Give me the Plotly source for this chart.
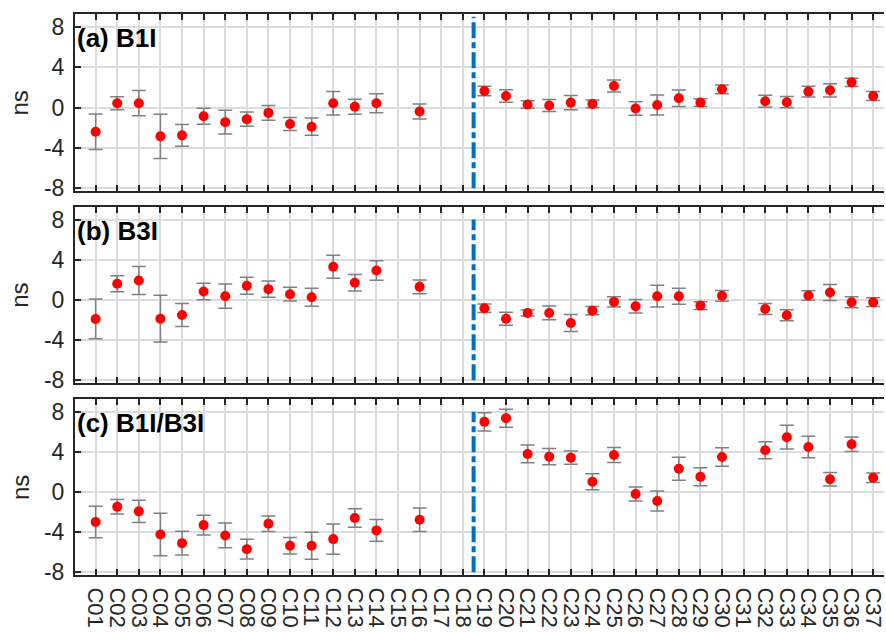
import plotly.graph_objects as go
from plotly.subplots import make_subplots

# Satellite labels along the x axis
categories = ["C01", "C02", "C03", "C04", "C05", "C06", "C07", "C08", "C09", "C10",
              "C11", "C12", "C13", "C14", "C15", "C16", "C17", "C18", "C19", "C20",
              "C21", "C22", "C23", "C24", "C25", "C26", "C27", "C28", "C29", "C30",
              "C31", "C32", "C33", "C34", "C35", "C36", "C37"]

# (a) B1I bias estimates and their uncertainties (ns)
b1i_val = [-2.4, 0.43, 0.43, -2.86, -2.76, -0.86, -1.45, -1.15, -0.53, -1.64,
           -1.9, 0.43, 0.07, 0.43, None, -0.39, None, None, 1.64, 1.15,
           0.3, 0.2, 0.49, 0.36, 2.14, -0.1, 0.26, 0.92, 0.49, 1.81,
           None, 0.62, 0.53, 1.58, 1.71, 2.5, 1.15]
b1i_err = [1.76, 0.65, 1.25, 2.2, 1.07, 0.8, 1.17, 0.7, 0.74, 0.64,
           0.86, 1.17, 0.74, 0.95, None, 0.74, None, None, 0.48, 0.62,
           0.38, 0.59, 0.7, 0.38, 0.59, 0.67, 0.99, 0.82, 0.38, 0.43,
           None, 0.59, 0.56, 0.53, 0.66, 0.41, 0.45]

# (b) B3I
b3i_val = [-1.9, 1.6, 1.93, -1.87, -1.5, 0.83, 0.37, 1.4, 1.07, 0.57,
           0.27, 3.3, 1.7, 2.93, None, 1.3, None, None, -0.83, -1.87,
           -1.3, -1.3, -2.3, -1.07, -0.2, -0.63, 0.37, 0.37, -0.57, 0.4,
           None, -0.9, -1.53, 0.43, 0.73, -0.23, -0.23]
b3i_err = [1.98, 0.8, 1.4, 2.33, 1.15, 0.82, 1.2, 0.85, 0.8, 0.68,
           0.9, 1.15, 0.82, 0.97, None, 0.68, None, None, 0.43, 0.65,
           0.3, 0.68, 0.85, 0.4, 0.5, 0.67, 1.08, 0.8, 0.38, 0.53,
           None, 0.55, 0.55, 0.47, 0.8, 0.55, 0.43]

# (c) B1I/B3I
b1b3_val = [-3.0, -1.47, -1.93, -4.23, -5.1, -3.3, -4.33, -5.7, -3.17, -5.37,
            -5.37, -4.7, -2.6, -3.83, None, -2.77, None, None, 7.0, 7.37,
            3.8, 3.53, 3.43, 1.03, 3.7, -0.2, -0.9, 2.33, 1.53, 3.5,
            None, 4.17, 5.47, 4.5, 1.27, 4.77, 1.43]
b1b3_err = [1.57, 0.72, 1.12, 2.12, 1.18, 0.98, 1.23, 0.98, 0.78, 0.82,
            1.35, 1.52, 0.92, 1.08, None, 1.18, None, None, 0.92, 0.9,
            0.88, 0.8, 0.65, 0.8, 0.75, 0.7, 1.0, 1.15, 0.9, 0.92,
            None, 0.85, 1.18, 1.07, 0.68, 0.72, 0.47]

panel_titles = ["(a) B1I", "(b) B3I", "(c) B1I/B3I"]
y_tickvals = [-8, -4, 0, 4, 8]
y_ticktext = ["-8", "-4", "0", "4", "8"]
split_position = 17.5  # boundary between C18 and C19

FONT = "Liberation Sans, Arial, Helvetica, sans-serif"
AXIS_COLOR = "#262626"
GRID_COLOR = "#dcdcdc"

fig = make_subplots(rows=3, cols=1, shared_xaxes=False, vertical_spacing=0.028)

series = [(b1i_val, b1i_err), (b3i_val, b3i_err), (b1b3_val, b1b3_err)]
domains = [[0.6845, 1.0], [0.3422, 0.6565], [0.0, 0.3137]]
line_tops = [9, 8, 8]

for i, (vals, errs) in enumerate(series):
    row = i + 1
    fig.add_trace(
        go.Scatter(
            x=categories, y=vals, mode="markers",
            marker=dict(color="#ff0000", size=10, line=dict(width=0)),
            error_y=dict(type="data", array=errs, visible=True,
                         color="#808080", thickness=1.5, width=7),
            showlegend=False,
        ),
        row=row, col=1,
    )
    xa = "xaxis" if row == 1 else f"xaxis{row}"
    ya = "yaxis" if row == 1 else f"yaxis{row}"
    xref = "x" if row == 1 else f"x{row}"
    yref = "y" if row == 1 else f"y{row}"
    fig.layout[xa].update(
        type="category", categoryorder="array", categoryarray=categories,
        tickmode="array", tickvals=categories, ticktext=categories,
        range=[-0.955, 36.5], domain=[0, 1],
        showgrid=True, gridcolor=GRID_COLOR, gridwidth=2,
        showline=True, linecolor=AXIS_COLOR, linewidth=2, mirror="ticks",
        ticks="inside", ticklen=6, tickwidth=2, tickcolor=AXIS_COLOR,
        showticklabels=(row == 3), tickangle=90,
        tickfont=dict(family=FONT, size=22, color="#262626"),
        ticklabelstandoff=6,
        zeroline=False,
    )
    fig.layout[ya].update(
        range=[-8.28, 9.28], domain=domains[i],
        tickvals=y_tickvals, ticktext=y_ticktext,
        showgrid=True, gridcolor=GRID_COLOR, gridwidth=2,
        showline=True, linecolor=AXIS_COLOR, linewidth=2, mirror=False,
        ticks="inside", ticklen=6, tickwidth=2, tickcolor=AXIS_COLOR,
        tickfont=dict(family=FONT, size=23, color="#262626"),
        ticklabelstandoff=4,
        zeroline=False,
    )
    # separator between the two satellite groups
    fig.add_shape(
        type="line", xref=xref, yref=yref,
        x0=split_position, x1=split_position, y0=-8, y1=line_tops[i],
        line=dict(color="#0072BD", width=4, dash="16px,4px,6px,4px"),
        layer="above",
    )
    # panel label
    fig.add_annotation(
        xref=f"{xref} domain", yref=f"{yref} domain", x=0.0, y=0.96,
        xanchor="left", yanchor="top", showarrow=False,
        text=f"<b>{panel_titles[i]}</b>",
        font=dict(family=FONT, size=26, color="#000000"),
    )
    # y-axis unit label
    fig.add_annotation(
        xref="paper", yref=f"{yref} domain", x=-0.068, y=0.5,
        xanchor="center", yanchor="middle", showarrow=False,
        text="ns", textangle=-90,
        font=dict(family=FONT, size=24, color="#262626"),
    )

fig.update_layout(
    width=886, height=632,
    margin=dict(l=75, r=0, t=14, b=57),
    plot_bgcolor="white", paper_bgcolor="white",
    font=dict(family=FONT),
)

fig.write_html("out.html")
